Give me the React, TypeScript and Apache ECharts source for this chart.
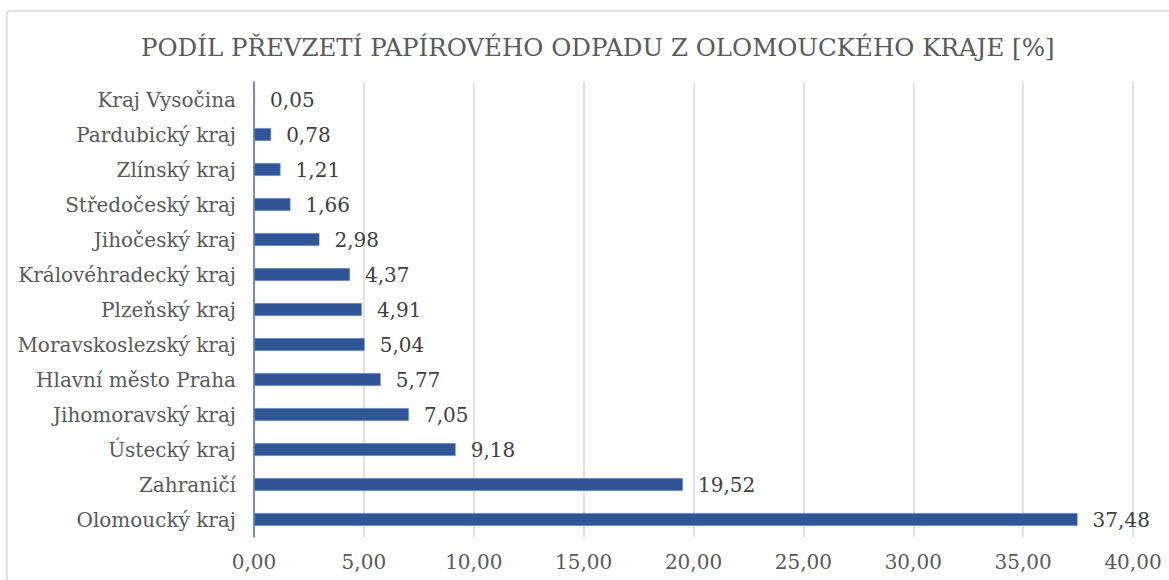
import React, { useEffect, useRef } from "react";
import * as echarts from "echarts";

const categories = [
  "Olomoucký kraj",
  "Zahraničí",
  "Ústecký kraj",
  "Jihomoravský kraj",
  "Hlavní město Praha",
  "Moravskoslezský kraj",
  "Plzeňský kraj",
  "Královéhradecký kraj",
  "Jihočeský kraj",
  "Středočeský kraj",
  "Zlínský kraj",
  "Pardubický kraj",
  "Kraj Vysočina",
];
const values = [37.48, 19.52, 9.18, 7.05, 5.77, 5.04, 4.91, 4.37, 2.98, 1.66, 1.21, 0.78, 0.05];
const title = "PODÍL PŘEVZETÍ PAPÍROVÉHO ODPADU Z OLOMOUCKÉHO KRAJE [%]";

const FONT = "'DejaVu Serif', serif";
const fmt = (v: number) => v.toFixed(2).replace(".", ",");

export default function App() {
  const ref = useRef<HTMLDivElement>(null);
  useEffect(() => {
    document.body.style.margin = "0";
    const chart = echarts.init(ref.current!, null, { renderer: "svg" });
    chart.setOption({
      animation: false,
      backgroundColor: "#ffffff",
      title: {
        text: title,
        left: 136,
        top: 30,
        textStyle: { fontFamily: FONT, fontSize: 24.5, fontWeight: "normal", color: "#595959" },
      },
      graphic: [
        {
          type: "rect",
          shape: { x: 7, y: 11, width: 1175, height: 590, r: 3 },
          style: { fill: "none", stroke: "#d9d9d9", lineWidth: 1.5 },
          silent: true,
        },
      ],
      grid: { left: 254, right: 36, top: 82, bottom: 43 },
      xAxis: {
        type: "value",
        min: 0,
        max: 40,
        interval: 5,
        axisLine: { show: false },
        axisTick: { show: false },
        splitLine: { lineStyle: { color: "#d9d9d9", width: 1.5 } },
        axisLabel: {
          formatter: (v: number) => fmt(v),
          fontFamily: FONT,
          fontSize: 20,
          color: "#595959",
          margin: 15,
        },
      },
      yAxis: {
        type: "category",
        data: categories,
        axisLine: { show: true, lineStyle: { color: "#4472c4", width: 1.5 } },
        axisTick: { show: false },
        axisLabel: { fontFamily: FONT, fontSize: 20, color: "#595959", margin: 18 },
      },
      series: [
        {
          type: "bar",
          data: values,
          barWidth: 13,
          itemStyle: { color: "#2f5597", borderColor: "#8faadc", borderWidth: 0.5 },
          label: {
            show: true,
            position: "right",
            distance: 15,
            formatter: (p: any) => fmt(p.value),
            fontFamily: FONT,
            fontSize: 20,
            color: "#404040",
          },
        },
      ],
    });
    return () => chart.dispose();
  }, []);
  return <div ref={ref} style={{ width: 1169, height: 580 }} />;
}
